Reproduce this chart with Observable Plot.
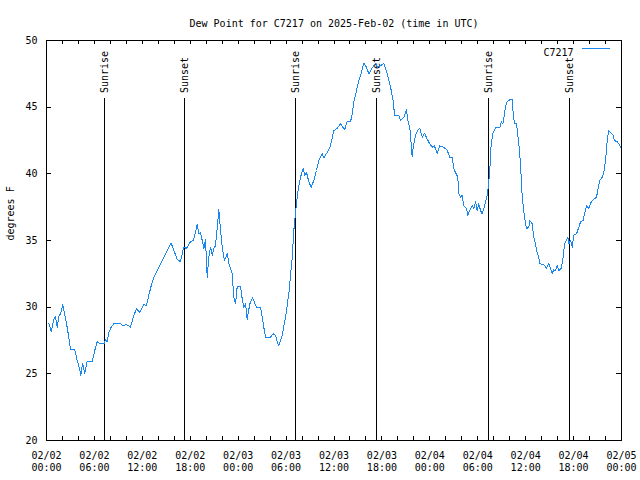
<!DOCTYPE html>
<html>
<head>
<meta charset="utf-8">
<script src="https://cdn.jsdelivr.net/npm/d3@7"></script>
<script src="https://cdn.jsdelivr.net/npm/@observablehq/plot@0.6"></script>
<style>
  html, body { margin: 0; padding: 0; background: white; }
</style>
</head>
<body>
<div id="chart"></div>
<script>
// ---- data (hours after 2025-02-02 00:00 UTC, dew point °F) ----
const hours = [
  0.29,0.59,0.91,1.13,1.34,1.54,1.75,2.04,2.25,2.50,2.79,3.01,3.54,3.84,4.09,4.30,4.51,4.80,5.10,5.72,
  5.92,6.14,6.35,6.76,7.18,7.39,7.60,7.80,8.10,8.43,9.27,9.60,10.02,10.52,10.86,11.27,11.68,12.18,12.52,12.81,
  13.11,
  13.44,14.06,14.69,15.31,15.61,15.94,16.37,16.78,16.99,17.19,17.53,18.03,18.37,18.66,18.87,19.07,19.28,19.50,19.70,19.91,
  20.12,20.32,20.54,20.75,20.95,21.16,21.38,21.58,21.79,22.00,22.29,22.63,22.83,23.25,23.45,23.67,23.88,24.29,24.51,24.71,
  24.92,25.13,25.46,25.80,26.30,26.80,27.21,27.42,28.05,28.39,28.68,28.89,29.09,29.51,29.93,30.34,30.77,
  30.97,31.18,31.39,31.59,31.81,32.14,32.34,32.56,32.85,33.15,33.47,33.81,34.10,34.52,34.72,35.15,35.56,35.98,36.40,36.81,
  37.03,37.32,37.65,38.07,38.28,38.48,38.82,39.11,39.44,39.73,40.07,40.36,40.78,41.20,41.48,41.82,42.24,42.66,43.08,43.41,
  43.58,44.11,44.33,44.74,45.08,45.24,45.49,45.79,45.92,46.21,46.49,46.74,47.05,47.33,47.67,48.00,48.30,48.58,48.92,49.25,
  49.75,50.18,50.50,50.80,51.00,
  51.21,51.50,51.63,51.84,52.05,52.25,52.59,52.75,53.09,53.31,53.51,53.72,53.93,54.13,54.35,54.56,54.76,54.97,55.18,55.31,
  55.51,55.68,55.93,56.22,56.76,56.94,57.14,57.26,57.48,57.69,58.10,58.31,58.44,58.60,58.85,59.14,59.35,59.57,59.85,60.11,
  60.39,60.52,60.82,61.02,61.23,61.44,61.64,61.77,62.27,62.61,62.90,63.11,63.32,63.52,63.74,63.95,64.15,64.45,64.70,64.86,
  65.11,65.28,65.40,65.62,65.83,66.03,66.37,66.66,66.87,67.21,67.37,67.62,67.91,68.21,68.53,68.87,69.03,69.28,69.58,69.78,
  70.00,70.21,70.41,70.62,70.96,71.12,71.46,71.66,71.88
];
const dewF = [
  28.8,28.2,29.05,29.3,28.5,29.3,29.5,30.2,29.5,28.8,27.75,26.8,26.8,26.0,25.5,24.9,25.8,25.05,25.95,25.95,
  26.4,27.0,27.4,27.25,27.25,27.55,27.4,28.1,28.5,28.75,28.75,28.6,28.7,28.5,29.25,29.9,29.6,30.2,30.1,30.9,
  31.6,
  32.25,33.0,33.75,34.5,34.8,34.25,33.6,33.4,34.0,34.5,34.4,34.9,35.0,35.6,36.2,35.5,35.6,35.0,34.4,35.1,
  32.25,33.75,34.5,33.9,34.4,34.6,36.0,37.3,35.75,34.5,33.5,34.0,33.3,32.5,30.75,30.25,31.55,31.55,30.6,30.0,
  30.25,29.1,30.25,30.7,30.0,30.0,28.5,27.75,27.75,28.0,27.9,27.4,27.1,27.9,29.25,31.0,33.75,
  35.75,37.1,38.25,39.1,39.75,40.4,39.9,40.1,39.4,39.0,39.5,40.25,41.0,41.5,41.2,41.6,42.1,43.25,43.4,43.75,
  43.55,43.3,43.9,43.9,44.5,45.4,46.25,47.0,47.6,48.3,48.0,47.5,47.95,48.3,48.0,48.1,48.3,47.5,46.5,45.5,
  44.4,44.4,44.0,44.25,44.8,44.0,43.5,41.3,42.0,42.9,43.25,43.4,42.75,43.05,42.6,42.25,42.0,42.1,41.5,42.1,
  42.0,41.75,41.25,41.25,40.4,
  40.1,39.75,38.5,38.25,38.4,37.6,37.4,36.9,37.4,37.6,37.4,37.9,37.25,37.75,37.25,37.0,37.4,37.9,38.4,39.0,
  40.25,42.25,43.1,43.45,43.45,43.9,43.75,44.1,45.1,45.4,45.6,45.6,44.5,43.8,43.75,42.25,40.75,38.25,36.75,35.9,
  36.0,36.5,36.25,35.25,34.75,34.1,33.75,33.25,33.2,32.9,33.3,32.9,32.55,32.8,32.75,33.1,32.75,32.9,33.75,34.75,
  35.0,35.25,34.75,35.0,34.5,35.4,35.5,36.0,36.4,36.5,37.0,37.6,37.4,37.9,38.1,38.25,38.75,39.5,39.75,40.1,
  41.0,42.5,43.25,43.1,42.9,42.5,42.4,42.25,42.0
];
const sunHours = [7.26, 17.28, 31.18, 41.32, 55.35, 65.49];
const sunLabels = ["Sunrise", "Sunset", "Sunrise", "Sunset", "Sunrise", "Sunset"];
const majorTickHours = [0, 6, 12, 18, 24, 30, 36, 42, 48, 54, 60, 66, 72];
const minorTickHours = d3.range(0, 73, 2);
const yTicks = [20, 25, 30, 35, 40, 45, 50];
const titleText = "Dew Point for C7217 on 2025-Feb-02 (time in UTC)";
const yLabel = "degrees F";
const seriesName = "C7217";

// ---- chart ----
const t0 = Date.UTC(2025, 1, 2);
const toDate = h => new Date(t0 + h * 3600e3);
const data = hours.map((h, i) => ({t: toDate(h), v: dewF[i]}));

const W = 640, H = 480, mL = 46, mR = 19, mT = 40, mB = 40;
const innerW = W - mL - mR, innerH = H - mT - mB;
const lineColor = "#1a86f0";

const legendLine = (index, scales, values, dim) => {
  const el = document.createElementNS("http://www.w3.org/2000/svg", "line");
  const xr = dim.width - dim.marginRight;
  const y = dim.marginTop + 8.5;
  el.setAttribute("x1", xr - 39);
  el.setAttribute("x2", xr - 11);
  el.setAttribute("y1", y);
  el.setAttribute("y2", y);
  el.setAttribute("stroke", lineColor);
  el.setAttribute("stroke-width", 1);
  el.setAttribute("shape-rendering", "crispEdges");
  return el;
};

const chart = Plot.plot({
  width: W, height: H,
  marginLeft: mL, marginRight: mR, marginTop: mT, marginBottom: mB,
  style: {fontFamily: "DejaVu Sans Mono", fontSize: "10px", background: "white", color: "black"},
  x: {type: "utc", domain: [toDate(0), toDate(72)]},
  y: {domain: [20, 50]},
  marks: [
    // inward ticks, all four sides
    Plot.ruleX(minorTickHours, {x: toDate, insetTop: innerH - 4, stroke: "black", shapeRendering: "crispEdges"}),
    Plot.ruleX(minorTickHours, {x: toDate, insetBottom: innerH - 4, stroke: "black", shapeRendering: "crispEdges"}),
    Plot.ruleY(yTicks, {y: d => d, insetRight: innerW - 5, stroke: "black", shapeRendering: "crispEdges"}),
    Plot.ruleY(yTicks, {y: d => d, insetLeft: innerW - 5, stroke: "black", shapeRendering: "crispEdges"}),
    Plot.axisX({ticks: majorTickHours.map(toDate), tickSize: 0, tickPadding: 10,
      tickFormat: d3.utcFormat("%m/%d\n%H:%M"), lineHeight: 1.2, label: null}),
    Plot.axisY({ticks: yTicks, tickSize: 0, tickPadding: 9, label: null}),
    // sunrise / sunset
    Plot.ruleX(sunHours, {x: toDate, insetTop: 58, stroke: "black", shapeRendering: "crispEdges"}),
    Plot.text(sunHours, {x: toDate, text: (d, i) => sunLabels[i], frameAnchor: "top", dy: 52.5, dx: -3.5,
      rotate: -90, textAnchor: "start"}),
    // titles
    Plot.text([titleText], {text: d => d, frameAnchor: "top", dy: -21}),
    Plot.text([yLabel], {text: d => d, frameAnchor: "left", dx: -36, rotate: -90}),
    // legend
    Plot.text([seriesName], {text: d => d, frameAnchor: "top-right", textAnchor: "end", dx: -48, dy: 8}),
    legendLine,
    // series
    Plot.line(data, {x: "t", y: "v", stroke: lineColor, strokeWidth: 1, shapeRendering: "crispEdges"}),
    Plot.frame({stroke: "black", shapeRendering: "crispEdges"})
  ]
});
document.getElementById("chart").appendChild(chart);
</script>
</body>
</html>
